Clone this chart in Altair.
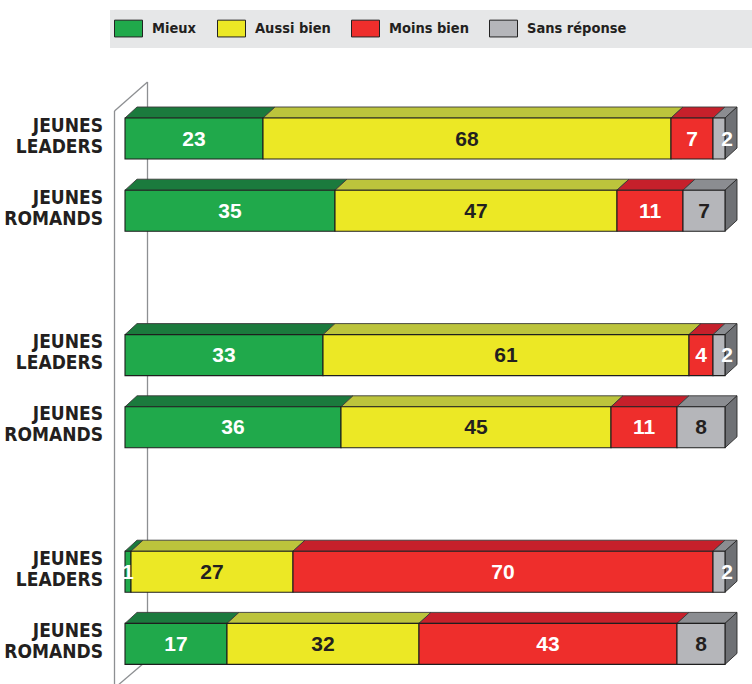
import altair as alt
import pandas as pd

# ---- data -------------------------------------------------------------
categories = ["Mieux", "Aussi bien", "Moins bien", "Sans réponse"]
row_labels = ["JEUNES\nLEADERS", "JEUNES\nROMANDS",
              "JEUNES\nLEADERS", "JEUNES\nROMANDS",
              "JEUNES\nLEADERS", "JEUNES\nROMANDS"]
mieux = [23, 35, 33, 36, 1, 17]
aussi_bien = [68, 47, 61, 45, 27, 32]
moins_bien = [7, 11, 4, 11, 70, 43]
sans_reponse = [2, 7, 2, 8, 2, 8]

# ---- style ------------------------------------------------------------
front_colors = ["#20a94b", "#ece825", "#ee2e2c", "#b5b6ba"]
top_colors = ["#1b7a3d", "#bcc43c", "#c6202b", "#8b8d91"]
side_color = "#6f7175"
text_colors = ["white", "#231f20", "white", "#231f20"]
edge = "#1e1e1e"
NUM_FONT = "Liberation Sans"
LAB_FONT = "DejaVu Sans Condensed, DejaVu Sans, sans-serif"

W, H = 752, 684
PX_PER_UNIT = 6.0            # 100 % = 600 px
X0 = 125
SLOT_PX = 72.2               # vertical distance between rows
SLOT0_PX = 138.5
HALF_H = 20.5 / SLOT_PX       # half front height in slot units
DX = 12 / PX_PER_UNIT         # depth offset, x units
DY = 11 / SLOT_PX             # depth offset, slot units

xscale = alt.Scale(domain=[(0 - X0) / PX_PER_UNIT, (W - X0) / PX_PER_UNIT], range=[0, W], nice=False, zero=False)
yscale = alt.Scale(domain=[-SLOT0_PX / SLOT_PX, (H - SLOT0_PX) / SLOT_PX], range=[0, H], nice=False, zero=False)

series = [mieux, aussi_bien, moins_bien, sans_reponse]

seg_rows, top_rows, side_rows, label_rows = [], [], [], []
for i in range(len(row_labels)):
    slot = (i // 2) * 3 + (i % 2)
    ytop, ybot = slot - HALF_H, slot + HALF_H
    start = 0
    for k, cat in enumerate(categories):
        v = series[k][i]
        end = start + v
        sid = f"{i}-{k}"
        seg_rows.append(dict(cat=cat, start=start, end=end, ytop=ytop, ybot=ybot,
                             value=v, mid=(start + end) / 2, slot=slot,
                             tcol=("white" if (k == 3 and v <= 2) else text_colors[k]),
                             labx=((end + 0.35) if (k == 3 and v <= 2) else (start + end) / 2)))
        top_rows.append(dict(sid=sid, y=ytop, x=start, x2=end, col=top_colors[k]))
        top_rows.append(dict(sid=sid, y=ytop - DY, x=start + DX, x2=end + DX, col=top_colors[k]))
        if k == len(categories) - 1:
            side_rows.append(dict(sid=str(i), x=end, y=ytop, y2=ybot))
            side_rows.append(dict(sid=str(i), x=end + DX, y=ytop - DY, y2=ybot - DY))
        start = end
    label_rows.append(dict(label=row_labels[i].split("\n"), slot=slot))

seg = pd.DataFrame(seg_rows)
top = pd.DataFrame(top_rows)
side = pd.DataFrame(side_rows)
labs = pd.DataFrame(label_rows)

# ---- decorations (3D wall) -------------------------------------------
wall_col = "#8d8f92"
one = pd.DataFrame({"a": [0]})
wall = [
    alt.Chart(one).mark_rule(color=wall_col, strokeWidth=1.3).encode(
        x=alt.value(147.5), y=alt.value(82), y2=alt.value(660)),
    alt.Chart(one).mark_rule(color=wall_col, strokeWidth=1.3).encode(
        x=alt.value(114.5), y=alt.value(111), y2=alt.value(H)),
    alt.Chart(one).mark_rule(color=wall_col, strokeWidth=1.3).encode(
        x=alt.value(114.5), x2=alt.value(147.5), y=alt.value(111), y2=alt.value(82)),
    alt.Chart(one).mark_rule(color=wall_col, strokeWidth=1.3).encode(
        x=alt.value(147.5), x2=alt.value(117), y=alt.value(660), y2=alt.value(686)),
]

legend_bg = alt.Chart(one).mark_rect(color="#e6e7e8").encode(
    x=alt.value(110), x2=alt.value(W), y=alt.value(10), y2=alt.value(48))

top_layer = alt.Chart(top).mark_area(orient="horizontal", stroke="#3a3a3a", strokeWidth=0.9,
                                     strokeJoin="round").encode(
    y=alt.Y("y:Q", scale=yscale, axis=None),
    x=alt.X("x:Q", scale=xscale, axis=None, stack=None),
    x2="x2:Q",
    detail="sid:N",
    fill=alt.Fill("col:N", scale=None),
)

side_layer = alt.Chart(side).mark_area(orient="vertical", stroke="#2a2a2a", strokeWidth=0.9,
                                       fill=side_color, strokeJoin="round").encode(
    x=alt.X("x:Q", scale=xscale, axis=None),
    y=alt.Y("y:Q", scale=yscale, axis=None, stack=None),
    y2="y2:Q",
    detail="sid:N",
)

front = alt.Chart(seg).mark_rect(stroke=edge, strokeWidth=1.1).encode(
    x=alt.X("start:Q", scale=xscale, axis=None),
    x2="end:Q",
    y=alt.Y("ytop:Q", scale=yscale, axis=None),
    y2="ybot:Q",
    color=alt.Color("cat:N", scale=alt.Scale(domain=categories, range=front_colors),
                    legend=alt.Legend(
                        title=None, orient="none", direction="horizontal",
                        legendX=114, legendY=14, padding=0,
                        symbolType="M-1,-0.6L1,-0.6L1,0.6L-1,0.6Z", symbolSize=784,
                        symbolStrokeColor="#222", symbolStrokeWidth=1, symbolOpacity=1,
                        labelFont=LAB_FONT, labelFontSize=14.5, labelFontWeight="bold",
                        labelColor="#231f20", labelOffset=9, columnPadding=18,
                        labelLimit=300)),
)

values = alt.Chart(seg).mark_text(font=NUM_FONT, fontSize=21, fontWeight="bold",
                                  baseline="middle", align="center", dy=1).encode(
    x=alt.X("labx:Q", scale=xscale, axis=None),
    y=alt.Y("slot:Q", scale=yscale, axis=None),
    text="value:Q",
    color=alt.Color("tcol:N", scale=None),
)

row_text = alt.Chart(labs).mark_text(font=LAB_FONT, fontSize=19, fontWeight="bold",
                                     align="right", baseline="middle", lineHeight=21,
                                     color="#231f20", dy=-13).encode(
    x=alt.value(103),
    y=alt.Y("slot:Q", scale=yscale, axis=None),
    text="label",
)

chart = alt.layer(
    legend_bg, *wall, top_layer, side_layer, front, values, row_text
).properties(
    width=W, height=H, padding=0, autosize=alt.AutoSizeParams(type="none")
).configure_view(stroke=None)

chart.save("out.html", embed_options={"renderer": "svg", "actions": False})
